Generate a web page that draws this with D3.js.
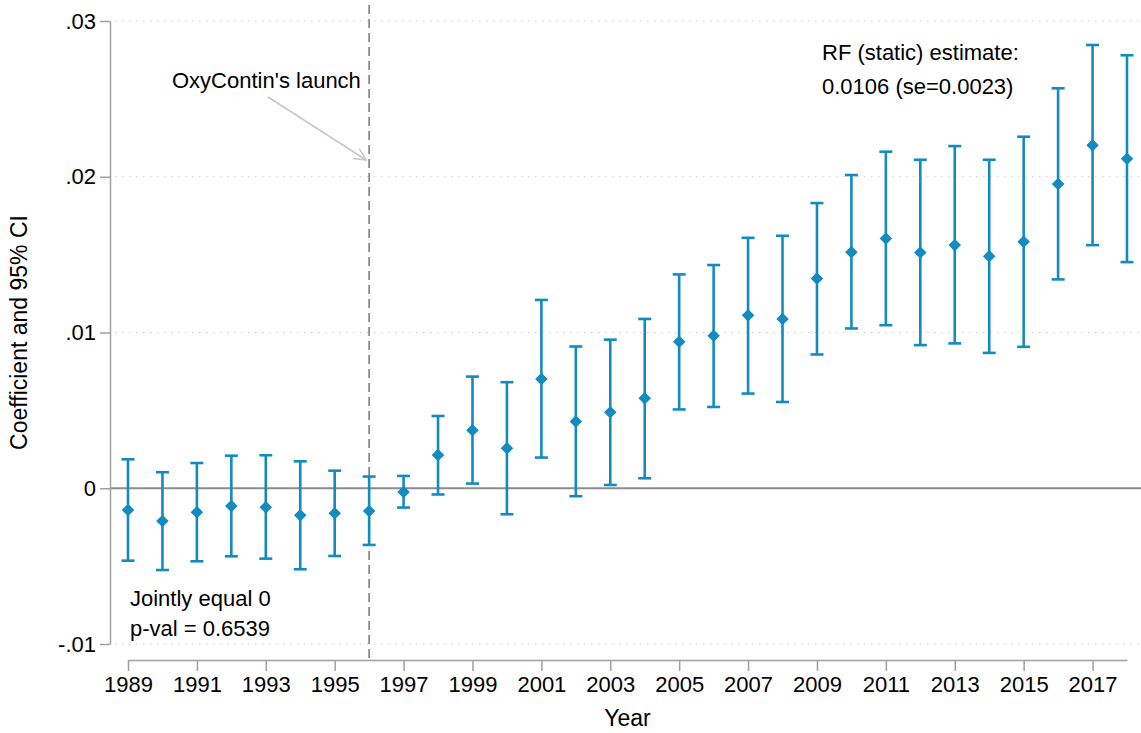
<!DOCTYPE html>
<html><head><meta charset="utf-8">
<script src="https://cdn.jsdelivr.net/npm/d3@7"></script>
<style>body{margin:0;background:#fff;} text{font-family:"Liberation Sans",Arial,sans-serif;}</style>
</head><body>
<svg id="c" width="1141" height="733"></svg>
<script>
const years = d3.range(1989, 2019);
const coef  = [-0.00139,-0.0021,-0.00154,-0.00114,-0.00122,-0.00173,-0.00161,-0.00146,
               -0.00024,0.00214,0.00373,0.00257,0.00702,0.00428,0.00488,0.00578,
               0.0094,0.00979,0.0111,0.01086,0.01347,0.01516,0.01604,0.01514,0.01561,0.01489,0.01582,0.01953,0.02202,0.02116];
const upper = [0.00186,0.00103,0.00162,0.00209,0.00212,0.00173,0.00113,0.00075,
               0.00079,0.00464,0.00717,0.00681,0.01209,0.0091,0.00954,0.01087,
               0.01373,0.01433,0.01608,0.01621,0.01831,0.02011,0.02161,0.02109,0.02197,0.02109,0.02257,0.02568,0.02846,0.0278];
const lower = [-0.00465,-0.00525,-0.00469,-0.00437,-0.00452,-0.0052,-0.00435,-0.00364,
               -0.00124,-0.0004,0.0003,-0.00167,0.00197,-0.00051,0.00021,0.00064,
               0.00506,0.00522,0.00608,0.00554,0.00859,0.01026,0.01047,0.00919,0.0093,0.00869,0.00908,0.01341,0.01561,0.01452];
const xTicks = d3.range(1989, 2018, 2);
const yTicks = [-0.01, 0, 0.01, 0.02, 0.03];
const yTickLabels = ["-.01", "0", ".01", ".02", ".03"];
const launchYear = 1996;

const svg = d3.select("#c");
const x = d3.scaleLinear().domain([1989, 2018]).range([128, 1127]);
const y = d3.scaleLinear().domain([-0.01, 0.03]).range([644, 21]);
const blue = "#138bc0";
const FONT = "Liberation Sans, Arial, sans-serif";

// gridlines
svg.append("g").selectAll("line").data(yTicks.filter(d => d !== 0)).join("line")
  .attr("x1", 115).attr("x2", 1141).attr("y1", d => y(d)).attr("y2", d => y(d))
  .attr("stroke", "#cfcfcf").attr("stroke-width", 1.2).attr("stroke-dasharray", "1.5,5.5");
// zero line
svg.append("line").attr("x1", 110).attr("x2", 1141).attr("y1", y(0)).attr("y2", y(0))
  .attr("stroke", "#8c8c8c").attr("stroke-width", 1.8);

// y axis
const yAxis = svg.append("g").attr("transform", "translate(110,0)")
  .call(d3.axisLeft(y).tickValues(yTicks).tickFormat((d, i) => yTickLabels[i]).tickSize(10).tickSizeOuter(0));
yAxis.select(".domain").attr("stroke", "#a0a0a0").attr("stroke-width", 1.5);
yAxis.selectAll(".tick line").attr("stroke", "#a0a0a0").attr("stroke-width", 1.5);
yAxis.selectAll(".tick text").attr("font-size", 22).attr("fill", "#000").attr("x", -14)
  .attr("font-family", FONT);

// x axis
const xAxis = svg.append("g").attr("transform", "translate(0,660)")
  .call(d3.axisBottom(x).tickValues(xTicks).tickFormat(d3.format("d")).tickSize(11).tickSizeOuter(0));
xAxis.select(".domain").attr("stroke", "#a0a0a0").attr("stroke-width", 1.5);
xAxis.selectAll(".tick line").attr("stroke", "#a0a0a0").attr("stroke-width", 1.5);
xAxis.selectAll(".tick text").attr("font-size", 22).attr("fill", "#000").attr("y", 16)
  .attr("font-family", FONT);

// axis titles
svg.append("text").attr("x", x(2003.5)).attr("y", 726).attr("text-anchor", "middle")
  .attr("font-size", 23).text("Year");
svg.append("text").attr("transform", `translate(27,${y(0.01)}) rotate(-90)`).attr("text-anchor", "middle")
  .attr("font-size", 23).text("Coefficient and 95% CI");

// launch line
svg.append("line").attr("x1", x(launchYear)).attr("x2", x(launchYear)).attr("y1", 5).attr("y2", 662)
  .attr("stroke", "#8a8a8a").attr("stroke-width", 1.8).attr("stroke-dasharray", "9,5");

// error bars
const g = svg.append("g");
years.forEach((yr, i) => {
  const cx = x(yr);
  g.append("line").attr("x1", cx).attr("x2", cx).attr("y1", y(upper[i])).attr("y2", y(lower[i]))
    .attr("stroke", blue).attr("stroke-width", 2.6);
  [upper[i], lower[i]].forEach(v => {
    g.append("line").attr("x1", cx - 6.5).attr("x2", cx + 6.5).attr("y1", y(v)).attr("y2", y(v))
      .attr("stroke", blue).attr("stroke-width", 2.6);
  });
});
g.selectAll("path.pt").data(years).join("path").attr("class", "pt")
  .attr("d", d3.symbol().type(d3.symbolDiamond2).size(100))
  .attr("transform", (d, i) => `translate(${x(d)},${y(coef[i])})`)
  .attr("fill", blue);

// arrow annotation
svg.append("defs").append("marker").attr("id", "ah").attr("viewBox", "0 0 12 12")
  .attr("refX", 11).attr("refY", 6).attr("markerWidth", 14).attr("markerHeight", 14)
  .attr("markerUnits", "userSpaceOnUse").attr("orient", "auto")
  .append("path").attr("d", "M1,1 L11,6 L1,11").attr("fill", "none").attr("stroke", "#c8c8c8").attr("stroke-width", 1.3);
svg.append("line").attr("x1", 268).attr("y1", 97).attr("x2", x(launchYear) - 3).attr("y2", 160)
  .attr("stroke", "#c8c8c8").attr("stroke-width", 1.5).attr("marker-end", "url(#ah)");

const ann = (tx, ty, s) => svg.append("text").attr("x", tx).attr("y", ty).attr("font-size", 22).attr("fill", "#000").text(s);
ann(172, 88, "OxyContin's launch");
ann(822, 60, "RF (static) estimate:");
ann(822, 94, "0.0106 (se=0.0023)");
ann(130, 606, "Jointly equal 0");
ann(130, 636, "p-val = 0.6539");
</script>
</body></html>
